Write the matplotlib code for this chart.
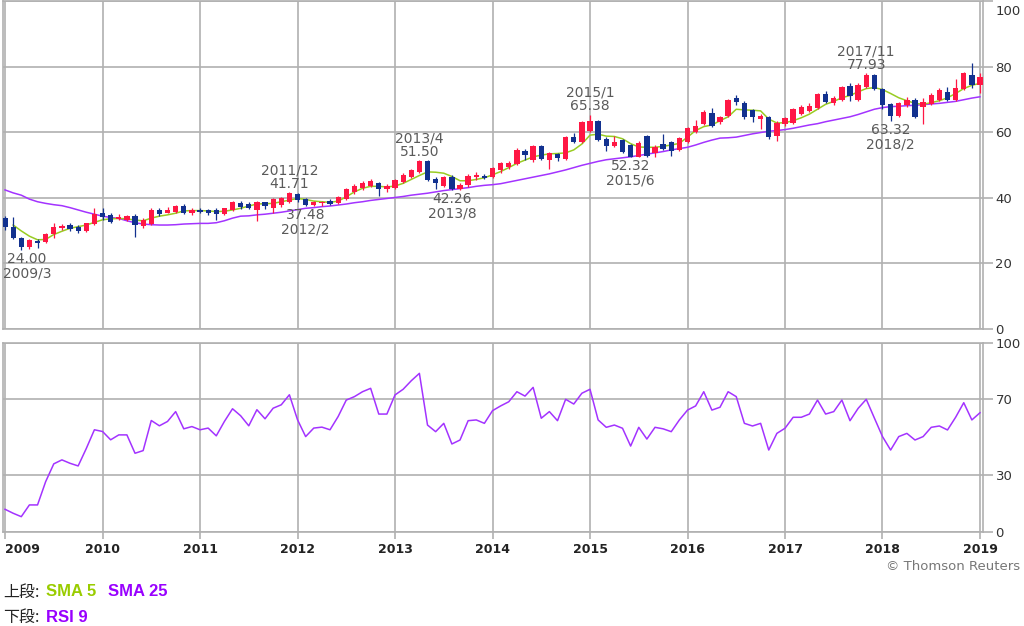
"""Monthly candlestick chart with SMA 5 / SMA 25 and RSI 9 panel."""

import numpy as np
import matplotlib
matplotlib.use("Agg")
import matplotlib.pyplot as plt

# ---------- Data (monthly, 2009/1 .. 2019/1) ---------- #
start_year = 2009
open_ = [
    33.7, 31.0, 27.6, 24.9, 26.9, 26.6, 28.9, 30.9, 31.6, 31.2,
    30.0, 32.0, 35.5, 34.8, 33.4, 33.3, 34.4, 31.4, 32.0, 36.3,
    35.5, 35.8, 37.5, 35.5, 36.4, 36.3, 36.3, 35.1, 36.3, 38.5,
    38.1, 36.3, 38.6, 36.8, 37.8, 38.8, 41.3, 39.6, 37.8, 38.4,
    39.0, 38.3, 39.5, 41.9, 42.9, 43.6, 44.4, 42.6, 42.9, 44.9,
    46.4, 48.0, 51.2, 45.8, 43.6, 46.4, 42.6, 43.8, 46.3, 46.7,
    46.4, 48.5, 49.3, 50.3, 54.4, 51.5, 55.8, 51.5, 53.4, 51.7,
    58.4, 57.1, 60.3, 63.3, 57.9, 55.8, 57.6, 56.1, 52.5, 58.8,
    53.7, 56.3, 57.0, 54.6, 57.1, 60.2, 62.4, 65.9, 63.0, 64.8,
    70.3, 69.0, 66.8, 63.9, 64.5, 58.8, 62.6, 62.9, 65.7, 66.6,
    67.3, 71.6, 68.8, 69.8, 74.1, 69.8, 73.9, 77.3, 73.1, 68.6,
    64.9, 68.3, 69.8, 67.6, 68.7, 69.8, 72.4, 69.8, 73.1, 77.4,
    74.4,
]
high = [
    34.4, 34.0, 28.1, 27.5, 27.3, 29.4, 32.2, 32.0, 32.2, 31.7,
    32.4, 36.8, 36.8, 35.3, 35.0, 34.7, 35.0, 33.7, 36.8, 36.8,
    37.2, 37.7, 38.0, 36.8, 37.0, 36.5, 36.8, 37.0, 39.0, 39.0,
    38.8, 39.1, 38.8, 39.8, 40.1, 41.71, 41.6, 39.9, 39.0, 39.1,
    39.5, 40.4, 42.9, 44.2, 45.1, 45.6, 44.9, 44.1, 45.6, 47.5,
    48.7, 51.50, 51.4, 46.2, 46.6, 46.9, 44.6, 47.3, 48.0, 47.3,
    49.5, 51.0, 51.3, 55.1, 54.8, 56.1, 56.1, 54.1, 53.8, 58.7,
    59.9, 63.5, 65.38, 63.6, 58.5, 58.7, 57.9, 56.4, 57.2, 59.1,
    56.1, 59.6, 57.3, 58.6, 61.7, 63.7, 66.7, 67.3, 65.0, 70.0,
    71.3, 69.6, 67.0, 65.4, 64.9, 63.4, 64.5, 67.3, 68.3, 68.8,
    72.0, 72.6, 71.0, 74.1, 74.9, 74.9, 77.93, 77.7, 73.4, 69.0,
    69.3, 70.8, 70.3, 70.3, 71.8, 73.4, 73.7, 76.1, 78.4, 81.0,
    78.2,
]
low = [
    30.2, 27.3, 24.00, 24.5, 24.6, 26.1, 27.6, 30.3, 30.0, 29.4,
    29.7, 31.7, 33.2, 32.4, 33.2, 33.0, 28.1, 30.7, 31.7, 34.4,
    35.3, 35.5, 35.1, 34.8, 35.3, 34.8, 33.2, 34.8, 36.1, 36.5,
    36.5, 33.0, 36.5, 35.3, 37.3, 38.3, 38.8, 37.48, 37.6, 37.5,
    37.8, 38.2, 39.3, 41.2, 42.4, 43.2, 40.5, 41.9, 42.6, 44.4,
    45.9, 47.7, 45.2, 42.6, 43.2, 42.26, 42.4, 43.3, 45.4, 45.6,
    45.9, 47.5, 48.7, 50.0, 51.5, 51.0, 51.5, 48.7, 51.3, 51.5,
    56.8, 56.8, 60.0, 57.3, 54.4, 55.5, 53.8, 52.32, 52.4, 52.4,
    52.4, 54.6, 52.7, 54.2, 56.8, 59.7, 62.1, 61.7, 62.6, 64.6,
    68.3, 63.9, 63.2, 60.9, 57.8, 57.4, 61.8, 62.6, 65.2, 66.3,
    67.0, 68.8, 68.3, 69.6, 69.6, 69.6, 73.4, 72.9, 67.0, 63.32,
    64.5, 67.6, 64.2, 62.4, 68.3, 69.6, 69.6, 69.6, 72.9, 73.4,
    72.0,
]
close = [
    31.0, 27.6, 24.9, 27.1, 26.1, 28.9, 31.0, 31.3, 30.6, 30.0,
    32.2, 35.1, 34.0, 32.7, 34.2, 34.4, 31.7, 33.2, 36.3, 35.1,
    36.3, 37.5, 35.5, 36.4, 35.7, 35.5, 35.1, 36.8, 38.7, 37.2,
    36.8, 38.8, 37.6, 39.5, 39.8, 41.4, 39.3, 37.7, 38.7, 38.8,
    38.2, 40.1, 42.6, 43.6, 44.4, 45.1, 42.6, 43.6, 45.4, 47.0,
    48.5, 51.2, 45.4, 44.4, 46.2, 42.6, 44.0, 46.7, 46.8, 45.9,
    49.0, 50.5, 50.7, 54.6, 53.0, 55.8, 51.7, 53.8, 52.0, 58.4,
    57.1, 63.2, 63.3, 57.6, 55.8, 57.1, 54.0, 52.5, 56.6, 52.6,
    55.5, 54.9, 54.4, 58.1, 61.2, 61.9, 66.2, 61.9, 64.6, 69.8,
    69.3, 64.5, 64.5, 64.9, 58.4, 62.9, 64.2, 67.0, 67.6, 68.0,
    71.6, 69.3, 70.3, 73.7, 71.0, 74.4, 77.4, 73.1, 68.3, 64.9,
    68.8, 69.8, 64.5, 69.3, 71.3, 72.9, 69.8, 73.4, 78.1, 74.4,
    76.9,
]
sma5 = [
    np.nan, 31.7, 29.9, 28.3, 27.2, 27.3, 28.8, 29.8, 30.7, 31.2,
    31.7, 32.5, 33.3, 33.6, 33.7, 33.6, 33.2, 33.0, 33.8, 34.4,
    34.8, 35.3, 36.0, 36.1, 36.1, 36.0, 35.8, 35.9, 36.3, 36.8,
    37.5, 38.1, 38.2, 38.3, 38.8, 39.3, 39.8, 39.5, 39.0, 38.8,
    38.6, 39.0, 40.3, 41.8, 42.9, 43.5, 43.5, 43.3, 43.6, 44.4,
    45.6, 46.8, 47.9, 47.8, 47.5, 46.5, 45.2, 45.2, 45.6, 46.1,
    47.0, 48.0, 49.2, 50.5, 51.5, 52.5, 53.0, 53.4, 53.5, 53.7,
    54.6, 56.4, 59.1, 59.4, 58.8, 58.7, 58.0, 56.5, 55.5, 55.4,
    55.4, 55.7, 56.1, 56.6, 58.5, 60.5, 61.7, 62.2, 63.5, 64.7,
    67.0, 66.8, 66.7, 66.5, 64.0, 62.8, 62.9, 63.5, 64.4, 65.5,
    67.0, 68.5, 69.4, 70.5, 71.2, 72.3, 73.3, 73.6, 73.0, 71.8,
    70.5, 69.6, 68.8, 68.5, 69.0, 69.6, 70.5, 71.8, 73.3, 74.3,
    74.9,
]
sma25 = [
    42.4, 41.5, 40.8, 39.6, 38.8, 38.3, 37.9, 37.6, 37.0, 36.3,
    35.6, 35.0, 34.4, 34.0, 33.7, 33.0, 32.4, 32.0, 31.8, 31.7,
    31.7, 31.8, 32.0, 32.1, 32.2, 32.2, 32.4, 33.0, 33.8, 34.4,
    34.5, 34.8, 35.0, 35.3, 35.6, 36.0, 36.4, 36.8, 37.0, 37.3,
    37.5, 37.8, 38.1, 38.5, 38.8, 39.2, 39.5, 39.8, 40.1, 40.4,
    40.8, 41.1, 41.4, 41.8, 42.2, 42.5, 42.8, 43.1, 43.5, 43.8,
    44.0, 44.3, 44.8, 45.3, 45.8, 46.3, 46.8, 47.3, 47.9, 48.5,
    49.2, 49.9, 50.5, 51.1, 51.6, 51.9, 52.2, 52.5, 52.9, 53.3,
    53.7, 54.1, 54.6, 55.0, 55.4, 56.1, 56.9, 57.6, 58.2, 58.3,
    58.5, 59.0, 59.5, 59.9, 60.3, 60.5, 60.8, 61.2, 61.7, 62.2,
    62.6, 63.2, 63.7, 64.2, 64.7, 65.4, 66.2, 67.0, 67.5, 67.8,
    67.9, 68.1, 68.2, 68.4, 68.6, 68.8, 69.1, 69.4, 69.9, 70.4,
    70.8,
]
rsi9 = [
    12.0, 9.9, 8.1, 14.3, 14.3, 26.6, 36.0, 38.1, 36.3, 34.9,
    44.1, 54.0, 53.1, 48.7, 51.3, 51.3, 41.6, 43.0, 58.9, 56.1,
    58.4, 63.6, 54.5, 55.7, 54.0, 54.9, 50.8, 58.4, 65.1, 61.4,
    56.1, 64.6, 59.8, 65.4, 67.2, 72.5, 59.3, 50.4, 54.9, 55.4,
    54.0, 61.0, 69.7, 71.5, 74.1, 75.9, 62.3, 62.3, 72.4, 75.4,
    79.9, 83.8, 56.5, 53.0, 57.4, 46.5, 48.6, 58.8, 59.2, 57.4,
    64.1, 66.6, 68.8, 74.1, 71.8, 76.4, 60.1, 63.6, 58.8, 70.1,
    67.6, 73.3, 75.4, 59.2, 55.3, 56.5, 54.8, 45.4, 55.3, 49.1,
    55.3, 54.5, 53.0, 59.2, 64.4, 66.6, 74.1, 64.4, 65.9, 74.1,
    71.5, 57.4, 56.0, 57.4, 43.3, 52.1, 54.8, 60.6, 60.6, 62.3,
    69.7, 62.3, 63.6, 69.7, 58.8, 65.3, 70.1, 60.2, 50.4, 43.3,
    50.4, 52.1, 48.6, 50.4, 55.3, 56.0, 53.9, 60.6, 68.3, 59.2,
    63.0,
]

# annotated extremes
ann_dates = ["2009/3", "2011/12", "2012/2", "2013/4", "2013/8",
             "2015/1", "2015/6", "2017/11", "2018/2"]
ann_values = [24.00, 41.71, 37.48, 51.50, 42.26, 65.38, 52.32, 77.93, 63.32]
ann_is_high = [False, True, False, True, False, True, False, True, False]

year_labels = [str(y) for y in range(2009, 2020)]
upper_ticks = [0, 20, 40, 60, 80, 100]
lower_ticks = [0, 30, 70, 100]

# ---------- Style ---------- #
RED = "#ff1744"
BLUE = "#12318f"
GREEN = "#99cc22"
PURPLE = "#a333ff"
GRID = "#b0b0b0"
W, H = 1024, 626


def style_axis(ax, yticks):
    ax.set_xlim(-0.25, 120.37)
    ax.set_xticks(np.arange(0, 121, 12))
    ax.set_yticks(yticks)
    ax.yaxis.tick_right()
    ax.grid(True, color=GRID, linewidth=1.2, zorder=0)
    ax.set_axisbelow(True)
    for sp in ax.spines.values():
        sp.set_color(GRID)
        sp.set_linewidth(1.2)
    ax.tick_params(axis="y", length=7, width=1.2, color=GRID, pad=2,
                   labelsize=9.5, labelcolor="#333333")


# ---------- Figure ---------- #
fig = plt.figure(figsize=(W / 100, H / 100), dpi=100)
ax1 = fig.add_axes([3 / W, 1 - 329 / H, 980 / W, 328 / H])
ax2 = fig.add_axes([3 / W, 1 - 532 / H, 980 / W, 189.3 / H])

x = np.arange(len(close))
o = np.array(open_)
c = np.array(close)
up = c >= o
colors = np.where(up, RED, BLUE)

# upper panel: candles + moving averages
style_axis(ax1, upper_ticks)
ax1.set_ylim(0, 100)
ax1.set_yticklabels([str(t) for t in upper_ticks[:-1]] + [""])
ax1.annotate("100", xy=(1, 100), xycoords=("axes fraction", "data"),
             xytext=(9, -3), textcoords="offset points", ha="left", va="top",
             fontsize=9.5, color="#333333")
ax1.tick_params(axis="x", length=0, labelbottom=False)

ax1.plot(x, sma25, color=PURPLE, linewidth=1.1, zorder=2)
ax1.plot(x, sma5, color=GREEN, linewidth=1.1, zorder=2)
ax1.vlines(x, low, high, colors=colors, linewidth=0.9, zorder=3)
body_low = np.minimum(o, c)
body_h = np.maximum(np.abs(c - o), 0.35)
ax1.bar(x, body_h, bottom=body_low, width=0.65, color=colors, zorder=4)

for date, val, is_high in zip(ann_dates, ann_values, ann_is_high):
    yr, mo = date.split("/")
    idx = (int(yr) - start_year) * 12 + int(mo) - 1
    dx = 4 if idx < 3 else 0
    sign = 1 if is_high else -1
    near, far = (5.8, 15.8) if is_high else (6.5, 16.6)
    ax1.annotate(f"{val:.2f}", xy=(idx, val), xytext=(dx, sign * near),
                 textcoords="offset points", ha="center", va="center",
                 fontsize=10, color="#5a5a5a")
    ax1.annotate(date, xy=(idx, val), xytext=(dx, sign * far),
                 textcoords="offset points", ha="center", va="center",
                 fontsize=10, color="#5a5a5a")

# lower panel: RSI
style_axis(ax2, lower_ticks)
ax2.set_ylim(0, 100)
ax2.plot(x, rsi9, color=PURPLE, linewidth=1.1, zorder=2)
ax2.set_xticklabels(year_labels)
ax2.tick_params(axis="x", length=5, width=1.2, color=GRID, pad=3,
                labelsize=9, labelcolor="#222222")
for lbl in ax2.get_xticklabels():
    lbl.set_fontweight("bold")
ax2.get_xticklabels()[0].set_ha("left")

# ---------- Footer texts ---------- #
cjk = ["Noto Sans CJK JP", "DejaVu Sans"]
fig.text(1 - 4 / W, 1 - 566 / H, "© Thomson Reuters", ha="right", va="center",
         fontsize=9.5, color="#777777")
fig.text(3 / W, 1 - 592 / H, "上段:", family=cjk, fontsize=11.5,
         ha="left", va="center", color="#222222")
fig.text(46 / W, 1 - 592 / H, "SMA 5", family="Liberation Sans",
         fontweight="bold", fontsize=12, ha="left", va="center", color="#99cc00")
fig.text(108 / W, 1 - 592 / H, "SMA 25", family="Liberation Sans",
         fontweight="bold", fontsize=12, ha="left", va="center", color="#9900ff")
fig.text(3 / W, 1 - 617 / H, "下段:", family=cjk, fontsize=11.5,
         ha="left", va="center", color="#222222")
fig.text(46 / W, 1 - 617 / H, "RSI 9", family="Liberation Sans",
         fontweight="bold", fontsize=12, ha="left", va="center", color="#9900ff")

fig.savefig("out.png", dpi=100)
